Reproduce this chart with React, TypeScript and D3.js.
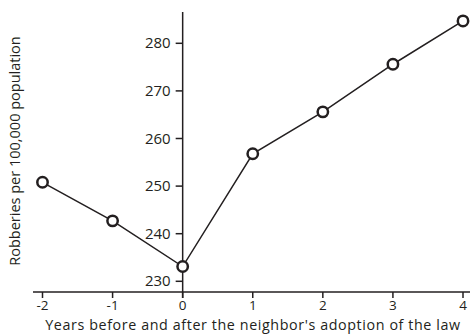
import React from "react";
import * as d3 from "d3";

const years = [-2, -1, 0, 1, 2, 3, 4];
const robberies = [250.8, 242.7, 233.1, 256.8, 265.6, 275.6, 284.7];
const yTicks = [230, 240, 250, 260, 270, 280];
const xLabel = "Years before and after the neighbor's adoption of the law";
const yLabel = "Robberies per 100,000 population";

export default function App() {
  const W = 470, H = 334;
  const x = d3.scaleLinear().domain([-2, 4]).range([42.5, 463]);
  const y = d3.scaleLinear().domain([230, 280]).range([281.3, 43.3]);
  const axisY = 292;
  const axisX = x(0);
  const line = d3.line<number>().x((_, i) => x(years[i])).y((d) => y(d));
  const font = "'Open Sans', 'Noto Sans', sans-serif";
  return (
    <svg width={W} height={H} style={{ position: "absolute", left: 0, top: 0, background: "#fff" }} fontFamily={font}>
      {/* x axis */}
      <line x1={33} x2={470} y1={axisY} y2={axisY} stroke="#231f20" strokeWidth={1.5} />
      {years.map((t) => (
        <g key={t}>
          <line x1={x(t)} x2={x(t)} y1={axisY} y2={axisY + 6} stroke="#231f20" strokeWidth={1.5} />
          <text x={x(t)} y={309.5} textAnchor="middle" fontSize={13.5} fill="#231f20">{t}</text>
        </g>
      ))}
      <text x={253} y={329.5} textAnchor="middle" fontSize={14.3} letterSpacing={0.6} fill="#231f20">{xLabel}</text>
      {/* y axis */}
      <line x1={axisX} x2={axisX} y1={12} y2={axisY + 6} stroke="#231f20" strokeWidth={1.5} />
      {yTicks.map((t) => (
        <g key={t}>
          <line x1={axisX - 7} x2={axisX} y1={y(t)} y2={y(t)} stroke="#231f20" strokeWidth={1.5} />
          <text x={axisX - 12} y={y(t) + 5} textAnchor="end" fontSize={15} fill="#231f20">{t}</text>
        </g>
      ))}
      <text transform={`translate(20,151) rotate(-90)`} textAnchor="middle" fontSize={14.5} fill="#231f20">{yLabel}</text>
      {/* series */}
      <path d={line(robberies) || ""} fill="none" stroke="#231f20" strokeWidth={1.5} />
      {robberies.map((v, i) => (
        <circle key={i} cx={x(years[i])} cy={y(v)} r={5.2} fill="#fff" stroke="#231f20" strokeWidth={2.5} />
      ))}
    </svg>
  );
}
